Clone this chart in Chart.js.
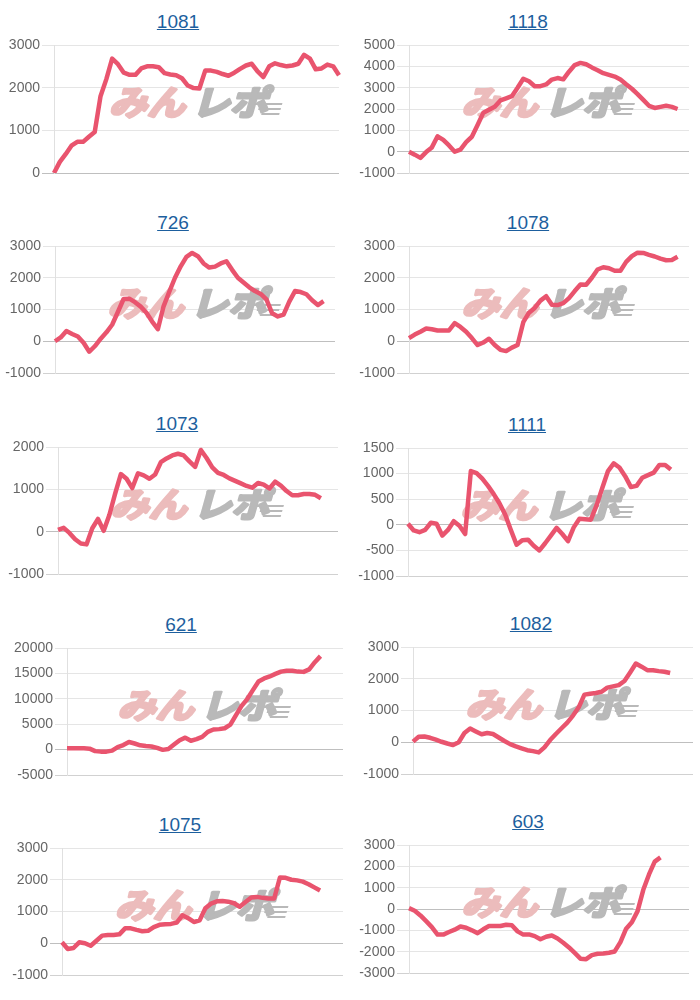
<!DOCTYPE html>
<html>
<head>
<meta charset="utf-8">
<script src="https://cdn.jsdelivr.net/npm/chart.js@4.4.0/dist/chart.umd.min.js"></script>
<style>
    body { margin: 0; background: #fff; width: 700px; height: 1000px; position: relative; overflow: hidden; font-family: "Liberation Sans", Arial, sans-serif; }
    .title { position: absolute; width: 200px; text-align: center; font-size: 19px; line-height: 22px; }
    .title a { color: #1d5f9e; text-decoration: underline; }
    canvas { position: absolute; }
</style>
</head>
<body>
<script>
// x categories (shared by every panel, shorter series just stop early)
const labels = Array.from({ length: 50 }, (_, i) => String(i + 1));

const titles = ['1081', '1118', '726', '1078', '1073', '1111', '621', '1082', '1075', '603'];

// series values
const vals1081 = [0, 260, 440, 640, 730, 730, 850, 960, 1800, 2200,
    2680, 2550, 2350, 2300, 2300, 2450, 2500, 2500, 2480, 2340,
    2310, 2290, 2220, 2050, 1990, 1980, 2400, 2400, 2370, 2320,
    2280, 2350, 2440, 2520, 2560, 2380, 2250, 2500, 2570, 2530,
    2500, 2520, 2560, 2770, 2680, 2430, 2450, 2540, 2500, 2290];
const vals1118 = [0, -140, -290, -20, 200, 720, 550, 290, 0, 100,
    450, 700, 1250, 1820, 1960, 2100, 2400, 2500, 2600, 3000,
    3420, 3300, 3070, 3070, 3150, 3380, 3450, 3390, 3750, 4060,
    4160, 4100, 3950, 3820, 3680, 3600, 3520, 3380, 3160, 2950,
    2700, 2430, 2150, 2050, 2100, 2150, 2100, 2000];
const vals726 = [0, 120, 320, 230, 150, -50, -330, -150, 80, 280,
    520, 920, 1330, 1340, 1230, 1090, 900, 620, 380, 1100,
    1560, 2000, 2360, 2660, 2780, 2680, 2450, 2320, 2350, 2450,
    2520, 2250, 2000, 1850, 1700, 1580, 1490, 1320, 880, 780,
    840, 1250, 1580, 1550, 1480, 1290, 1140, 1260];
const vals1078 = [100, 210, 300, 400, 380, 340, 340, 340, 570, 450,
    300, 100, -120, -40, 80, -120, -270, -310, -200, -120,
    600, 900, 1050, 1280, 1420, 1150, 1140, 1200, 1360, 1580,
    1790, 1780, 2000, 2260, 2330, 2300, 2220, 2220, 2500, 2680,
    2790, 2780, 2720, 2670, 2600, 2550, 2560, 2660];
const vals1073 = [40, 90, -30, -180, -280, -300, 80, 300, 20, 400,
    900, 1360, 1250, 1030, 1380, 1330, 1250, 1350, 1640, 1730,
    1800, 1840, 1800, 1660, 1530, 1930, 1740, 1520, 1390, 1340,
    1260, 1200, 1140, 1080, 1040, 1150, 1110, 1020, 1180, 1090,
    960, 860, 860, 890, 890, 870, 790];
const vals1111 = [20, -110, -145, -100, 40, 20, -210, -100, 70, -20,
    -180, 1050, 1010, 900, 760, 600, 420, 200, -100, -390,
    -300, -290, -410, -500, -360, -210, -60, -180, -320, -50,
    120, 110, 100, 380, 720, 1050, 1200, 1120, 950, 740,
    760, 920, 970, 1020, 1170, 1170, 1080];
const vals621 = [250, 260, 260, 250, 180, -300, -400, -400, -200, 500,
    900, 1500, 1200, 850, 700, 600, 330, -50, 130, 1000,
    1850, 2350, 1750, 2050, 2500, 3500, 3950, 4030, 4200, 4900,
    6800, 8600, 9950, 11700, 13400, 14000, 14400, 14900, 15350, 15530,
    15530, 15350, 15300, 15800, 17200, 18400];
const vals1082 = [20, 170, 180, 140, 80, 15, -40, -90, 0, 290,
    430, 340, 250, 290, 260, 150, 40, -60, -130, -190,
    -250, -280, -320, -160, 70, 260, 440, 620, 840, 1100,
    1500, 1530, 1550, 1590, 1720, 1760, 1800, 1930, 2200, 2480,
    2380, 2270, 2270, 2240, 2220, 2180];
const vals1075 = [30, -180, -150, 30, 0, -80, 80, 240, 260, 260,
    280, 470, 470, 420, 380, 390, 510, 580, 600, 610,
    650, 880, 790, 670, 720, 1100, 1250, 1320, 1330, 1310,
    1260, 1150, 1300, 1440, 1460, 1430, 1410, 1410, 2070, 2060,
    2000, 1980, 1940, 1860, 1760, 1660];
const vals603 = [40, -80, -300, -570, -850, -1200, -1200, -1080, -970, -820,
    -880, -1000, -1130, -950, -800, -800, -800, -740, -760, -1050,
    -1200, -1190, -1270, -1420, -1300, -1240, -1380, -1580, -1800, -2060,
    -2330, -2350, -2160, -2100, -2090, -2050, -1990, -1550, -920, -620,
    -100, 900, 1620, 2220, 2420];

const series = [vals1081, vals1118, vals726, vals1078, vals1073, vals1111, vals621, vals1082, vals1075, vals603];

// y axis tick ranges
const yMin = [0, -1000, -1000, -1000, -1000, -1000, -5000, -1000, -1000, -3000];
const yMax = [3000, 5000, 3000, 3000, 2000, 1500, 20000, 3000, 3000, 3000];
const yStep = [1000, 1000, 1000, 1000, 1000, 500, 5000, 1000, 1000, 1000];

// where each plot sits on the page (px): plot box + title centre
const boxes = [
    { left: 54, right: 339, top: 45, bottom: 173, tx: 178 },
    { left: 409, right: 689, top: 45, bottom: 173, tx: 528 },
    { left: 55, right: 335, top: 246, bottom: 373, tx: 173 },
    { left: 409, right: 689, top: 246, bottom: 373, tx: 528 },
    { left: 58, right: 338, top: 447, bottom: 574, tx: 177 },
    { left: 408, right: 688, top: 448, bottom: 576, tx: 527 },
    { left: 67, right: 343, top: 648, bottom: 775, tx: 181 },
    { left: 413, right: 693, top: 647, bottom: 774, tx: 531 },
    { left: 62, right: 343, top: 848, bottom: 975, tx: 180 },
    { left: 409, right: 689, top: 845, bottom: 973, tx: 528 }
];

const AXW = 60;   // y axis width
const PAD = 12;   // top/bottom padding in canvas
const LINE = 'rgb(233, 84, 110)';

// みんレポ logo behind the line
const watermark = {
    id: 'watermark',
    beforeDatasetsDraw(chart) {
        const { ctx, chartArea } = chart;
        const cx = (chartArea.left + chartArea.right) / 2 - 4;
        const cy = chartArea.top + 57;
        ctx.save();
        ctx.font = 'bold 34px "Noto Sans CJK JP"';
        ctx.textBaseline = 'middle';
        ctx.textAlign = 'left';
        ctx.lineJoin = 'round';
        ctx.lineWidth = 3;
        ctx.translate(cx - 80, cy);
        ctx.transform(1.12, 0, -0.28, 1, 0, 0);
        ctx.fillStyle = ctx.strokeStyle = '#ecbcbc';
        ctx.strokeText('みん', 0, 0);
        ctx.fillText('みん', 0, 0);
        ctx.fillStyle = ctx.strokeStyle = '#b9b9b9';
        ctx.strokeText('レポ', 74, 0);
        ctx.fillText('レポ', 74, 0);
        // speed lines
        ctx.lineWidth = 2;
        [2, 7, 12].forEach(function (dy, k) {
            ctx.beginPath();
            ctx.moveTo(128 + k * 4, dy);
            ctx.lineTo(152, dy);
            ctx.stroke();
        });
        ctx.restore();
    }
};

series.forEach(function (vals, i) {
    const b = boxes[i];

    // link-style title
    const t = document.createElement('div');
    t.className = 'title';
    t.style.left = (b.tx - 100) + 'px';
    t.style.top = (b.top - 34) + 'px';
    t.innerHTML = '<a href="#">' + titles[i] + '</a>';
    document.body.appendChild(t);

    const cv = document.createElement('canvas');
    cv.width = b.right - b.left + AXW + 4;
    cv.height = b.bottom - b.top + PAD * 2;
    cv.style.left = (b.left - AXW) + 'px';
    cv.style.top = (b.top - PAD) + 'px';
    document.body.appendChild(cv);

    new Chart(cv, {
        type: 'line',
        data: {
            labels: labels,
            datasets: [{
                data: vals,
                borderColor: LINE,
                borderWidth: 4.5,
                borderJoinStyle: 'round',
                pointRadius: 0,
                tension: 0,
                fill: false
            }]
        },
        options: {
            responsive: false,
            animation: false,
            layout: { padding: { top: PAD, bottom: PAD, left: 0, right: 4 } },
            plugins: { legend: { display: false }, tooltip: { enabled: false } },
            scales: {
                x: { display: false },
                y: {
                    min: yMin[i],
                    max: yMax[i],
                    ticks: {
                        stepSize: yStep[i],
                        color: '#666',
                        padding: 2,
                        font: { size: 14, family: '"Liberation Sans", Arial, sans-serif' },
                        callback: v => String(v)
                    },
                    grid: {
                        tickLength: 12,
                        color: c => {
                            if (c.tick && c.tick.value === 0) return 'rgba(0,0,0,0.25)';
                            if (c.index === 0) return 'rgba(0,0,0,0.18)';
                            return 'rgba(0,0,0,0.1)';
                        }
                    },
                    border: { color: 'rgba(0,0,0,0.12)' },
                    afterFit: s => { s.width = AXW; }
                }
            }
        },
        plugins: [watermark]
    });
});
</script>
</body>
</html>
